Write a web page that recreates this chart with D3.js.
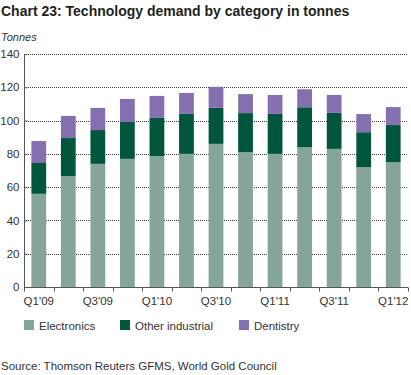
<!DOCTYPE html>
<html>
<head>
<meta charset="utf-8" />
<title></title>
<style>
body { margin: 0; background: #fff; }
text { font-family: "Liberation Sans", Arial, sans-serif; }
.grid line { stroke: #444; stroke-width: 1px; stroke-dasharray: 1,1; }
.axis path, .axis line { stroke: #555; stroke-width: 1px; }
</style>
</head>
<body>
<div id="container"></div>
<script src="https://cdn.jsdelivr.net/npm/d3@7"></script>
<script>
var quarters = ["Q1'09", "Q2'09", "Q3'09", "Q4'09", "Q1'10", "Q2'10", "Q3'10", "Q4'10", "Q1'11", "Q2'11", "Q3'11", "Q4'11", "Q1'12"]
var electronics = [56, 66.7, 74, 77, 78.7, 80, 86, 81, 80, 84, 83, 72, 75]
var otherIndustrial = [18.5, 22.8, 20.3, 22.2, 22.9, 24, 21.7, 23.5, 24, 24, 21.6, 21, 22.3]
var dentistry = [13.2, 13.3, 13.3, 13.8, 13.2, 12.6, 12.6, 11.4, 11.4, 10.8, 10.8, 10.9, 10.8]
var yTicks = [0, 20, 40, 60, 80, 100, 120, 140]
var seriesNames = ["Electronics", "Other industrial", "Dentistry"]
var colors = ["#84a598", "#00553d", "#8470b0"]

var width = 411, height = 375,
    margin = { left: 24, top: 54, right: 3, bottom: 88 },
    g_width = width - margin.left - margin.right,
    g_height = height - margin.top - margin.bottom

var svg = d3.select("#container")
    .append("svg")
    .attr("width", width)
    .attr("height", height)

svg.append("text")
    .attr("x", 1).attr("y", 16)
    .attr("font-size", "14px")
    .attr("font-weight", "bold")
    .attr("fill", "#231f20")
    .text("Chart 23: Technology demand by category in tonnes")

svg.append("text")
    .attr("x", 1).attr("y", 41)
    .attr("font-size", "11px")
    .attr("font-style", "italic")
    .attr("fill", "#333")
    .text("Tonnes")

var g = svg.append("g")
    .attr("transform", "translate(" + margin.left + "," + margin.top + ")")

var x = d3.scaleBand()
    .domain(quarters)
    .range([0, g_width])
    .paddingInner(0.5)
    .paddingOuter(0.25)

var xEdges = d3.scaleBand().domain(quarters).range([0, g_width])

var y = d3.scaleLinear()
    .domain([0, 140])
    .range([g_height, 0])

// dotted gridlines
g.append("g").attr("class", "grid")
    .selectAll("line")
    .data(yTicks.filter(function(d) { return d > 0 }))
    .enter().append("line")
    .attr("x1", 0).attr("x2", g_width)
    .attr("y1", function(d) { return Math.round(y(d)) + 0.5 })
    .attr("y2", function(d) { return Math.round(y(d)) + 0.5 })

// stacked data
var table = quarters.map(function(q, i) {
    return { q: q, "Electronics": electronics[i], "Other industrial": otherIndustrial[i], "Dentistry": dentistry[i] }
})
var stack = d3.stack().keys(seriesNames)(table)

g.selectAll("g.series")
    .data(stack)
    .enter().append("g")
    .attr("class", "series")
    .attr("fill", function(d, i) { return colors[i] })
    .selectAll("rect")
    .data(function(d) { return d })
    .enter().append("rect")
    .attr("x", function(d) { return x(d.data.q) })
    .attr("width", x.bandwidth())
    .attr("y", function(d) { return y(d[1]) })
    .attr("height", function(d) { return y(d[0]) - y(d[1]) })

// y axis
var yAxis = d3.axisLeft(y).tickValues(yTicks).tickSize(3).tickPadding(2)
var ya = g.append("g").attr("class", "axis")
    .attr("transform", "translate(0.5,0)")
    .call(yAxis)
ya.selectAll(".tick line").attr("x2", 3).attr("x1", 0)
ya.select(".domain").attr("d", "M0," + g_height + "V0")
ya.selectAll("text")
    .attr("font-size", "11.5px")
    .attr("fill", "#333")
    .attr("font-family", "Liberation Sans, Arial, sans-serif")

// x axis with ticks at band edges
var xa = g.append("g").attr("class", "axis")
    .attr("transform", "translate(0," + (g_height + 0.5) + ")")
xa.append("path").attr("d", "M0,0H" + g_width)
xa.selectAll("line")
    .data(quarters)
    .enter().append("line")
    .attr("x1", function(d) { return Math.round(xEdges(d) + xEdges.bandwidth()) + 0.5 })
    .attr("x2", function(d) { return Math.round(xEdges(d) + xEdges.bandwidth()) + 0.5 })
    .attr("y1", 0).attr("y2", 4)
xa.append("line").attr("x1", 0.5).attr("x2", 0.5).attr("y1", 0).attr("y2", 4)
xa.selectAll("text")
    .data(quarters.filter(function(d, i) { return i % 2 === 0 }))
    .enter().append("text")
    .attr("x", function(d) { return x(d) + x.bandwidth() / 2 })
    .attr("y", 17)
    .attr("text-anchor", "middle")
    .attr("font-size", "11.5px")
    .attr("fill", "#333")
    .text(function(d) { return d })

// legend
var legendX = [24, 120, 239]
var legend = svg.append("g").attr("transform", "translate(0,321)")
seriesNames.forEach(function(name, i) {
    legend.append("rect")
        .attr("x", legendX[i]).attr("y", -1)
        .attr("width", 10).attr("height", 10)
        .attr("fill", colors[i])
    legend.append("text")
        .attr("x", legendX[i] + 15).attr("y", 8.5)
        .attr("font-size", "11.5px")
        .attr("fill", "#333")
        .text(name)
})

svg.append("text")
    .attr("x", 1).attr("y", 370)
    .attr("font-size", "11.5px")
    .attr("fill", "#333")
    .text("Source: Thomson Reuters GFMS, World Gold Council")
</script>
</body>
</html>
